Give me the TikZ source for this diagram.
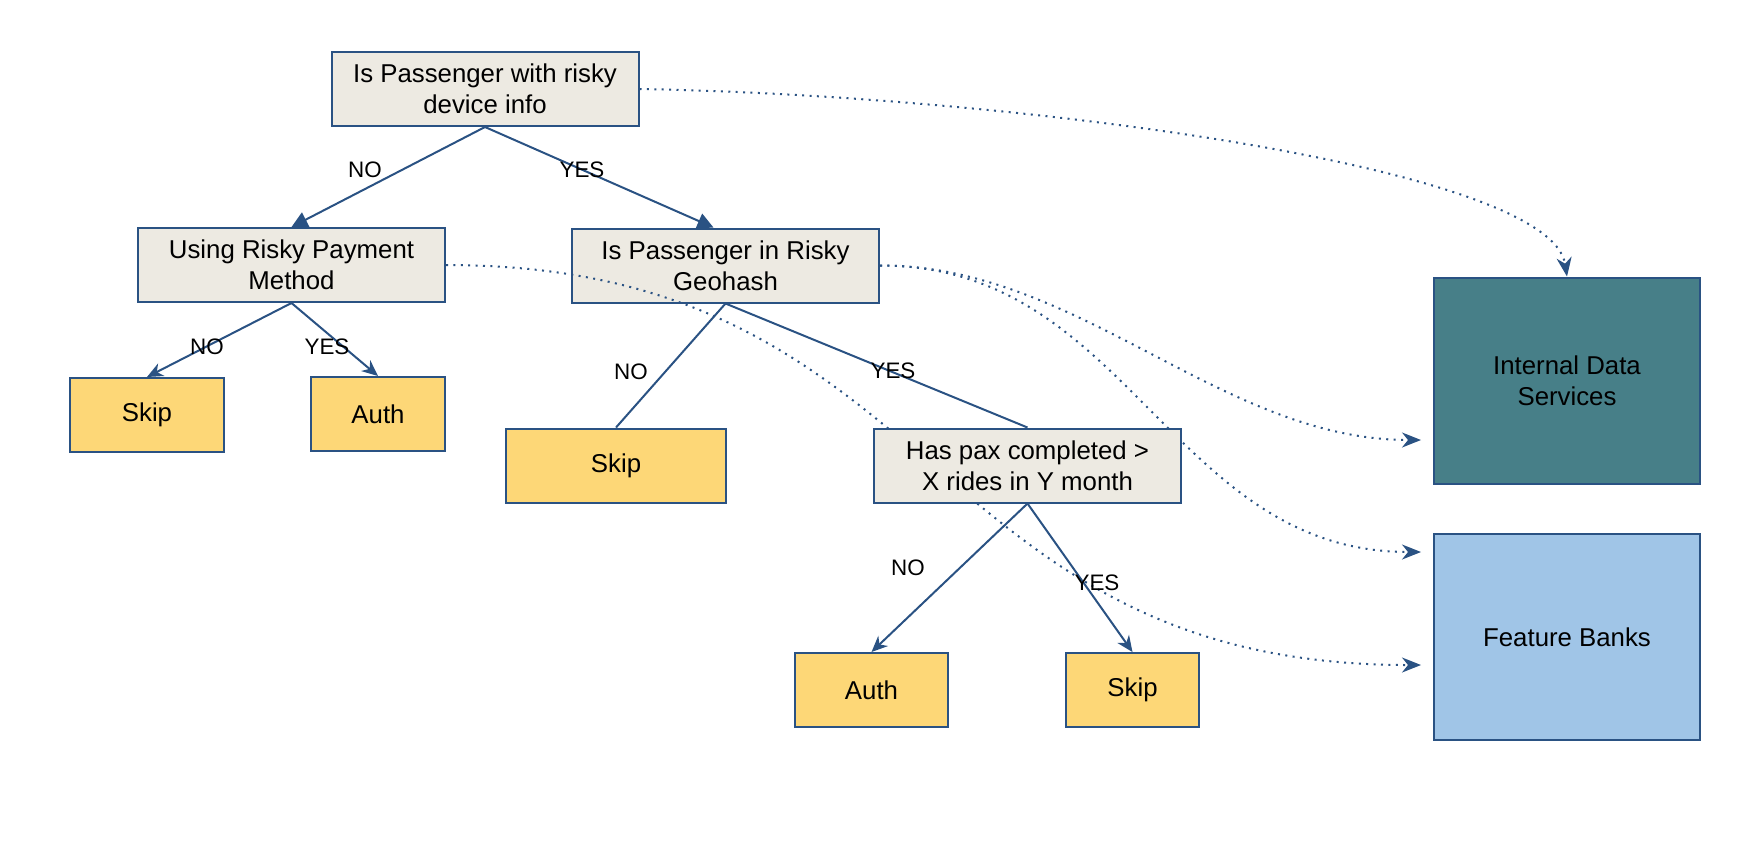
\documentclass[tikz,border=0pt]{standalone}
\usepackage{fontspec}
\setmainfont{Liberation Sans}
\usetikzlibrary{arrows.meta}
\definecolor{edgec}{HTML}{2A5283}
\definecolor{decfill}{HTML}{EDEAE2}
\definecolor{leaffill}{HTML}{FDD777}
\definecolor{idsfill}{HTML}{477F88}
\definecolor{fbfill}{HTML}{A0C5E7}
\begin{document}
\begin{tikzpicture}[x=0.5pt,y=-0.5pt,
  box/.style={draw=edgec, line width=1pt, inner sep=0pt, align=center,
    font=\fontsize{12.9}{15.5}\selectfont},
  decision/.style={box, fill=decfill, minimum width=153.5pt, minimum height=37pt},
  leaf/.style={box, fill=leaffill, minimum height=37pt},
  store/.style={box, minimum width=133pt, minimum height=103pt},
  lbl/.style={font=\fontsize{11.2}{13}\selectfont, inner sep=0pt},
  tree/.style={draw=edgec, line width=1pt},
  headarrow/.style={-{Triangle[length=8pt,width=8pt]}},
  childarrow/.style={-{Stealth[length=8pt,width=7pt,inset=2.5pt]}},
  dep/.style={draw=edgec, line width=1pt, dash pattern=on 1pt off 2.7pt,
    -{Stealth[length=9.5pt,width=7.5pt,inset=3pt]}}]
\useasboundingbox (0,0) rectangle (1750,848);

% upper decision nodes and stores
\node[decision] (root) at (485,89) {Is Passenger with risky\\device info};
\node[decision] (pay) at (291.5,265) {Using Risky Payment\\Method};
\node[decision] (geo) at (725.5,265.5) {Is Passenger in Risky\\Geohash};
\node[store, fill=idsfill] (ids) at (1567,380.5) {Internal Data\\Services};
\node[store, fill=fbfill] (fb) at (1567,637) {Feature Banks};

\coordinate (idsin) at (1421,440);
\coordinate (fbinA) at (1421,552);
\coordinate (fbinB) at (1421,665);

% dotted dependency connectors
\draw[dep] (root.east) .. controls (1000,95) and (1550,165) .. (ids.north);
\draw[dep] (geo.east) .. controls (1079,265) and (1221,440) .. (idsin);
\draw[dep] (geo.east) .. controls (1129,265) and (1171,552) .. (fbinA);
\draw[dep] (pay.east) .. controls (945,265) and (921,665) .. (fbinB);

% remaining nodes
\node[decision] (pax) at (1027.5,465.5) {Has pax completed >\\X rides in Y month};
\node[leaf, minimum width=77pt] (skip1) at (147,415) {Skip};
\node[leaf, minimum width=67pt] (auth1) at (378,414) {Auth};
\node[leaf, minimum width=110pt] (skip2) at (616,465.5) {Skip};
\node[leaf, minimum width=76.5pt] (auth2) at (871.5,690) {Auth};
\node[leaf, minimum width=66.5pt] (skip3) at (1132.5,690) {Skip};

% tree connectors
\draw[tree, headarrow] (root.south) -- (pay.north);
\draw[tree, headarrow] (root.south) -- ([xshift=-6pt]geo.north);
\draw[tree, childarrow] (pay.south) -- (skip1.north);
\draw[tree, childarrow] (pay.south) -- (auth1.north);
\draw[tree] (geo.south) -- (skip2.north);
\draw[tree] (geo.south) -- (pax.north);
\draw[tree, childarrow] (pax.south) -- (auth2.north);
\draw[tree, childarrow] (pax.south) -- (skip3.north);

% labels
\node[lbl] (l1) at (365,170) {NO};
\node[lbl] (l2) at (582,170) {YES};
\node[lbl] (l3) at (207,347) {NO};
\node[lbl] (l4) at (327,347) {YES};
\node[lbl] (l5) at (631,372) {NO};
\node[lbl] (l6) at (893,371) {YES};
\node[lbl] (l7) at (908,568) {NO};
\node[lbl] (l8) at (1097,583) {YES};
\end{tikzpicture}
\end{document}
